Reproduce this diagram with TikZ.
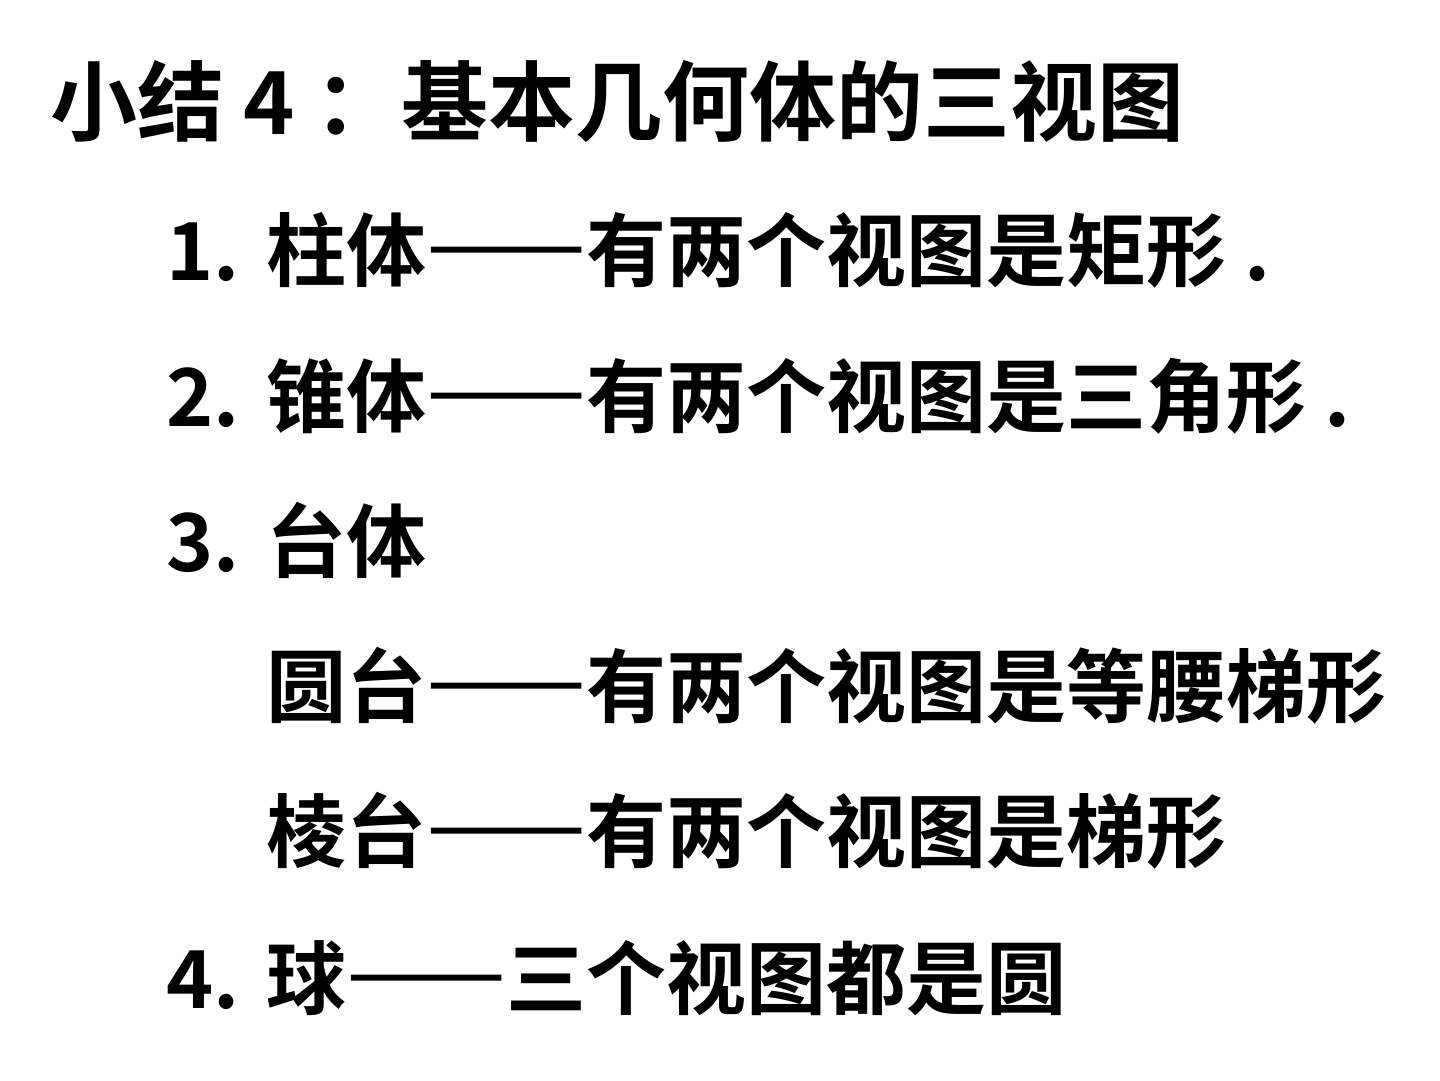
\documentclass[tikz,border=0pt]{standalone}
\usepackage{fontspec}
\setmainfont{Noto Sans CJK SC}[BoldFont={Noto Sans CJK SC Bold}]

% full-width dash
\newcommand{\fdash}{{\addfontfeature{RawFeature=+fwid,FakeBold=3}——}}

\tikzset{
  ttl/.style={anchor=base west, inner sep=0pt, font=\fontsize{87}{92}\selectfont\bfseries},
  num/.style={anchor=base west, inner sep=0pt, font=\fontsize{80}{86}\selectfont\bfseries},
  item/.style={anchor=base west, inner sep=0pt, font=\fontsize{80}{86}\selectfont\bfseries}
}

\begin{document}
\begin{tikzpicture}[x=1pt, y=-1pt]

  \useasboundingbox [fill=white] (0,0) rectangle (1440,1080);

  %%%%%%%%%%%%%%%% TITLE %%%%%%%%%%%%%%%%
  \node [ttl] (title) at (50,134) {小结 4\hspace{19pt}：基本几何体的三视图};

  %%%%%%%%%%%%%%%% ITEMS %%%%%%%%%%%%%%%%
  \node [num]  (n1) at (166,280) {1.};
  \node [item] (i1) at (266,280) {柱体\fdash 有两个视图是矩形 .};

  \node [num]  (n2) at (166,426) {2.};
  \node [item] (i2) at (266,426) {锥体\fdash 有两个视图是三角形 .};

  \node [num]  (n3) at (166,571) {3.};
  \node [item] (i3) at (266,571) {台体};

  % sub items
  \node [item] (i3a) at (266,716) {圆台\fdash 有两个视图是等腰梯形};
  \node [item] (i3b) at (266,861) {棱台\fdash 有两个视图是梯形};

  \node [num]  (n4) at (166,1008) {4.};
  \node [item] (i4) at (266,1008) {球\fdash 三个视图都是圆};

\end{tikzpicture}
\end{document}
